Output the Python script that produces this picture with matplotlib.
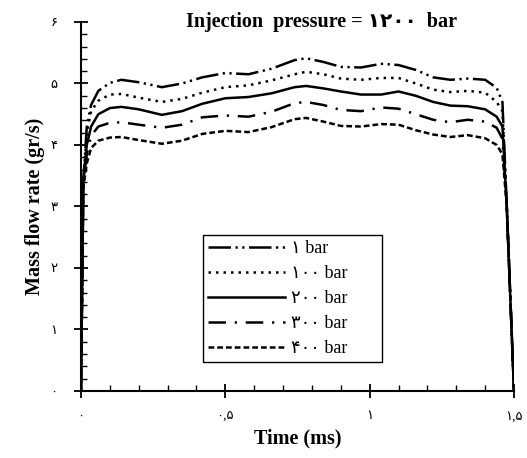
import matplotlib
matplotlib.use("Agg")
import matplotlib.pyplot as plt
from matplotlib.ticker import MultipleLocator

plt.rcParams['font.family'] = ['Liberation Serif', 'DejaVu Sans']

# time (ms)
t = [0, 0.008, 0.02, 0.035, 0.06, 0.1, 0.14, 0.2, 0.28, 0.35, 0.42, 0.5, 0.58, 0.66,
     0.74, 0.78, 0.84, 0.9, 0.97, 1.04, 1.1, 1.16, 1.22, 1.28, 1.34, 1.4, 1.44, 1.46,
     1.475, 1.5]

# mass flow rate (gr/s) for each back pressure
q_1bar = [0, 3.4, 4.3, 4.65, 4.88, 5.01, 5.06, 5.02, 4.94, 5.0, 5.1, 5.17, 5.15, 5.24,
          5.38, 5.41, 5.35, 5.27, 5.26, 5.32, 5.3, 5.22, 5.1, 5.06, 5.08, 5.06, 4.93,
          4.7, 3.0, 0]
q_100bar = [0, 3.4, 4.2, 4.55, 4.72, 4.82, 4.83, 4.77, 4.7, 4.75, 4.85, 4.94, 4.97, 5.05,
            5.15, 5.19, 5.15, 5.08, 5.06, 5.09, 5.09, 5.0, 4.9, 4.86, 4.88, 4.85, 4.7,
            4.55, 3.0, 0]
q_200bar = [0, 3.4, 4.0, 4.3, 4.5, 4.6, 4.62, 4.58, 4.49, 4.55, 4.67, 4.76, 4.78, 4.84,
            4.94, 4.96, 4.92, 4.87, 4.82, 4.82, 4.87, 4.8, 4.7, 4.64, 4.63, 4.58, 4.46,
            4.3, 3.0, 0]
q_300bar = [0, 3.4, 3.85, 4.15, 4.3, 4.36, 4.37, 4.33, 4.28, 4.33, 4.45, 4.48, 4.46, 4.54,
            4.68, 4.7, 4.65, 4.57, 4.55, 4.61, 4.59, 4.5, 4.41, 4.37, 4.41, 4.38, 4.28,
            4.1, 3.0, 0]
q_400bar = [0, 3.3, 3.7, 3.95, 4.07, 4.12, 4.13, 4.08, 4.02, 4.07, 4.18, 4.23, 4.21, 4.29,
            4.42, 4.44, 4.38, 4.31, 4.3, 4.34, 4.33, 4.24, 4.17, 4.13, 4.16, 4.11, 4.0,
            3.85, 3.0, 0]

labels = ["۱ bar", "۱۰۰ bar", "۲۰۰ bar", "۳۰۰ bar", "۴۰۰ bar"]
y_ticks = [0, 1, 2, 3, 4, 5, 6]
y_ticklabels = ["۰", "۱", "۲", "۳", "۴", "۵", "۶"]
x_ticks = [0, 0.5, 1, 1.5]
x_ticklabels = ["۰", "۰,۵", "۱", "۱,۵"]

fig = plt.figure(figsize=(5.27, 4.58), dpi=100)
ax = fig.add_axes([0.1537, 0.1463, 0.8216, 0.8057])

lw = 1.8
ax.plot(t, q_1bar, color='black', lw=lw, linestyle=(0, (9, 1.8, 0.9, 1.8, 0.9, 1.8)), label=labels[0])
ax.plot(t, q_100bar, color='black', lw=lw, linestyle=(0, (1.0, 2.0)), label=labels[1])
ax.plot(t, q_200bar, color='black', lw=lw, linestyle='-', label=labels[2])
ax.plot(t, q_300bar, color='black', lw=lw, linestyle=(0, (7, 3.5, 0.9, 3.5)), label=labels[3])
ax.plot(t, q_400bar, color='black', lw=lw, linestyle=(0, (2.3, 1.2)), label=labels[4])

ax.set_xlim(0, 1.5)
ax.set_ylim(0, 6)
ax.spines['top'].set_visible(False)
ax.spines['right'].set_visible(False)
ax.spines['left'].set_linewidth(1.5)
ax.spines['bottom'].set_linewidth(1.5)

ax.set_xticks(x_ticks)
ax.set_xticklabels(x_ticklabels)
ax.set_yticks(y_ticks)
ax.set_yticklabels(y_ticklabels)
ax.xaxis.set_minor_locator(MultipleLocator(0.1))
ax.yaxis.set_minor_locator(MultipleLocator(0.2))
ax.tick_params(which='major', direction='inout', length=10, width=1.3, labelsize=9.5, pad=12)
ax.tick_params(axis='x', which='major', pad=9)
ax.tick_params(which='minor', direction='in', length=4, width=1.0)

ax.set_xlabel("Time (ms)", fontsize=14.5, fontweight='bold', labelpad=4)
ax.set_ylabel("Mass flow rate (gr/s)", fontsize=14.5, fontweight='bold', labelpad=4)
ax.text(0.555, 1.0, "Injection  pressure = ۱۲۰۰  bar", transform=ax.transAxes,
        ha='center', va='center', fontsize=14.5, fontweight='bold')

leg = ax.legend(loc='lower left', bbox_to_anchor=(0.282, 0.079, 0.413, 0.346),
                mode='expand', borderaxespad=0, fontsize=13, handlelength=4.3,
                handletextpad=0.3, labelspacing=0.45, borderpad=0.25, fancybox=False,
                framealpha=1, edgecolor='black')
leg.get_frame().set_linewidth(1.0)

fig.savefig("out.png", dpi=100)
